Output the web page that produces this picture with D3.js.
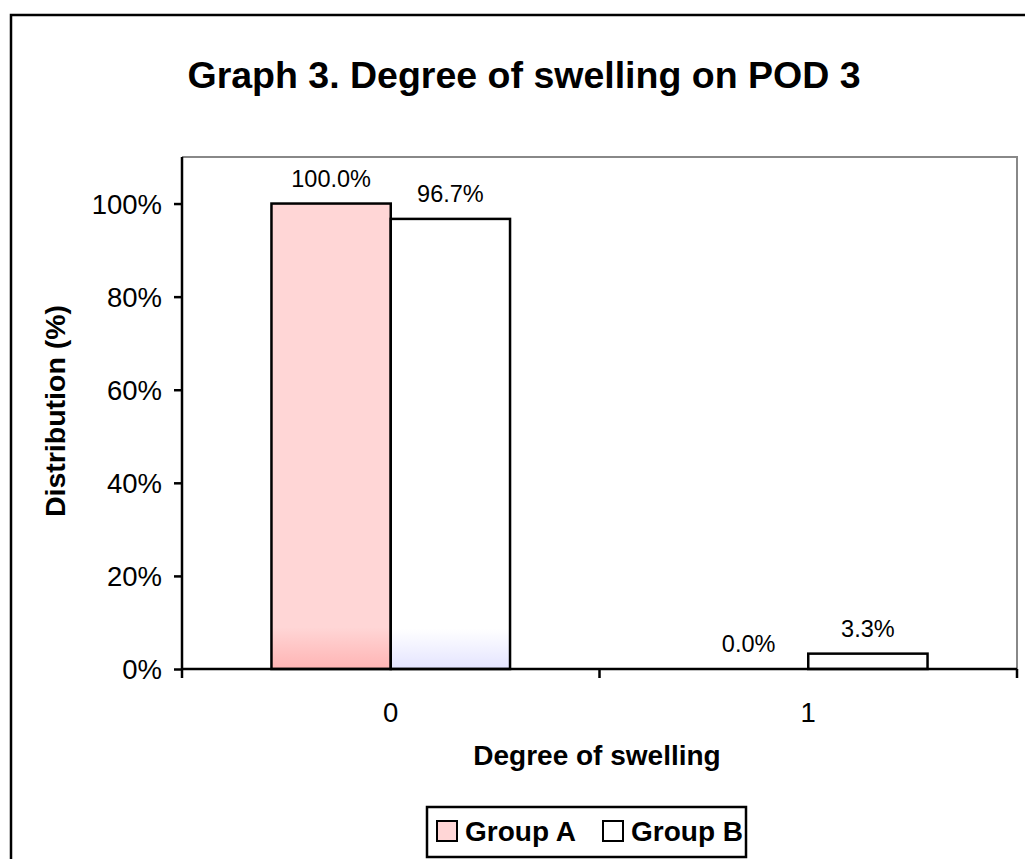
<!DOCTYPE html>
<html>
<head>
<meta charset="utf-8">
<script src="https://cdn.jsdelivr.net/npm/d3@7"></script>
<style>
  html, body { margin: 0; padding: 0; background: #fff; }
  svg { display: block; font-family: Arial, "Liberation Sans", sans-serif; }
</style>
</head>
<body>
<svg id="chart" width="1025" height="859"></svg>
<script>
// Distribution of swelling degree on post-operative day 3
const categories = ["0", "1"];
const groups = ["Group A", "Group B"];
const groupA = [100.0, 0.0];
const groupB = [96.7, 3.3];
const yTicks = [0, 20, 40, 60, 80, 100];
const yMax = 110;

const W = 1025, H = 859;
const margin = { left: 182, right: 8, top: 157, bottom: 190 };
const plotW = W - margin.left - margin.right;
const plotH = H - margin.top - margin.bottom;

const svg = d3.select("#chart");

// Fill gradients for the bars (darker tint at the base)
const defs = svg.append("defs");
const fills = [
  { id: "gradA", top: "#FFD6D6", bottom: "#FFB4B4", legend: "#FFD6D6" },
  { id: "gradB", top: "#FFFFFF", bottom: "#E4E4FF", legend: "#FFFFFF" }
];
fills.forEach(f => {
  const g = defs.append("linearGradient").attr("id", f.id)
    .attr("x1", 0).attr("y1", 0).attr("x2", 0).attr("y2", 1);
  g.append("stop").attr("offset", "0.91").attr("stop-color", f.top);
  g.append("stop").attr("offset", "1").attr("stop-color", f.bottom);
});

// Outer chart frame
svg.append("rect")
  .attr("x", 11).attr("y", 15).attr("width", 1100).attr("height", 1000)
  .attr("fill", "#fff").attr("stroke", "#000").attr("stroke-width", 2.5);

// Title
svg.append("text")
  .attr("x", 524).attr("y", 88)
  .attr("text-anchor", "middle")
  .attr("font-weight", "bold").attr("font-size", 37.5)
  .text("Graph 3. Degree of swelling on POD 3");

const g = svg.append("g").attr("transform", `translate(${margin.left},${margin.top})`);

const x0 = d3.scaleBand().domain(categories).range([0, plotW]).padding(0);
const x1 = d3.scaleBand().domain(groups).range([0, x0.bandwidth()])
  .paddingInner(0).paddingOuter(0.75);
const y = d3.scaleLinear().domain([0, yMax]).range([plotH, 0]);

// Plot-area border (grey top and right)
g.append("path")
  .attr("d", `M0,0H${plotW}V${plotH}`)
  .attr("fill", "none").attr("stroke", "#888").attr("stroke-width", 2);

// Bars
const rows = categories.map((c, i) => ({ cat: c, vals: [groupA[i], groupB[i]] }));
const catG = g.selectAll(".cat").data(rows).join("g")
  .attr("transform", d => `translate(${x0(d.cat)},0)`);

catG.selectAll("rect").data(d => d.vals.map((v, j) => ({ v, j })).filter(o => o.v > 0))
  .join("rect")
  .attr("x", d => x1(groups[d.j]))
  .attr("y", d => y(d.v))
  .attr("width", x1.bandwidth())
  .attr("height", d => plotH - y(d.v))
  .attr("fill", d => `url(#${fills[d.j].id})`)
  .attr("stroke", "#000").attr("stroke-width", 2.5);

// Value labels
catG.selectAll("text.val").data(d => d.vals.map((v, j) => ({ v, j })))
  .join("text").attr("class", "val")
  .attr("x", d => x1(groups[d.j]) + x1.bandwidth() / 2)
  .attr("y", d => y(d.v) - 17)
  .attr("text-anchor", "middle")
  .attr("font-size", 23.5)
  .text(d => d.v.toFixed(1) + "%");

// Y axis
const yAxis = g.append("g")
  .call(d3.axisLeft(y).tickValues(yTicks).tickSize(8).tickPadding(12)
    .tickFormat(d => d + "%"));
yAxis.select(".domain").attr("d", `M0,0V${plotH}`).attr("stroke-width", 2.5);
yAxis.selectAll(".tick line").attr("stroke-width", 2.5);
yAxis.selectAll(".tick text").attr("font-size", 27.5).attr("font-family", null).attr("dy", "0.36em");

// X axis with ticks between categories
const xAxis = g.append("g").attr("transform", `translate(0,${plotH})`);
xAxis.append("line").attr("x1", 0).attr("x2", plotW)
  .attr("stroke", "#000").attr("stroke-width", 2.5);
const bounds = [0].concat(categories.map(c => x0(c) + x0.bandwidth()));
xAxis.selectAll("line.tk").data(bounds).join("line").attr("class", "tk")
  .attr("x1", d => d).attr("x2", d => d).attr("y1", 0).attr("y2", 9)
  .attr("stroke", "#000").attr("stroke-width", 2.5);
xAxis.selectAll("text").data(categories).join("text")
  .attr("x", d => x0(d) + x0.bandwidth() / 2)
  .attr("y", 53)
  .attr("text-anchor", "middle").attr("font-size", 27.5)
  .text(d => d);

// Axis titles
svg.append("text")
  .attr("x", 597).attr("y", 765)
  .attr("text-anchor", "middle").attr("font-weight", "bold").attr("font-size", 28)
  .text("Degree of swelling");
svg.append("text")
  .attr("transform", "translate(65,411) rotate(-90)")
  .attr("text-anchor", "middle").attr("font-weight", "bold").attr("font-size", 28.5)
  .text("Distribution (%)");

// Legend
const lg = svg.append("g").attr("transform", "translate(427,807)");
lg.append("rect").attr("width", 319).attr("height", 50)
  .attr("fill", "#fff").attr("stroke", "#000").attr("stroke-width", 2.5);
const itemX = [10, 176];
groups.forEach((name, j) => {
  const it = lg.append("g").attr("transform", `translate(${itemX[j]},14)`);
  it.append("rect").attr("width", 20).attr("height", 20)
    .attr("fill", fills[j].legend).attr("stroke", "#000").attr("stroke-width", 2);
  it.append("text").attr("x", 28).attr("y", 20)
    .attr("font-weight", "bold").attr("font-size", 28)
    .text(name);
});
</script>
</body>
</html>
